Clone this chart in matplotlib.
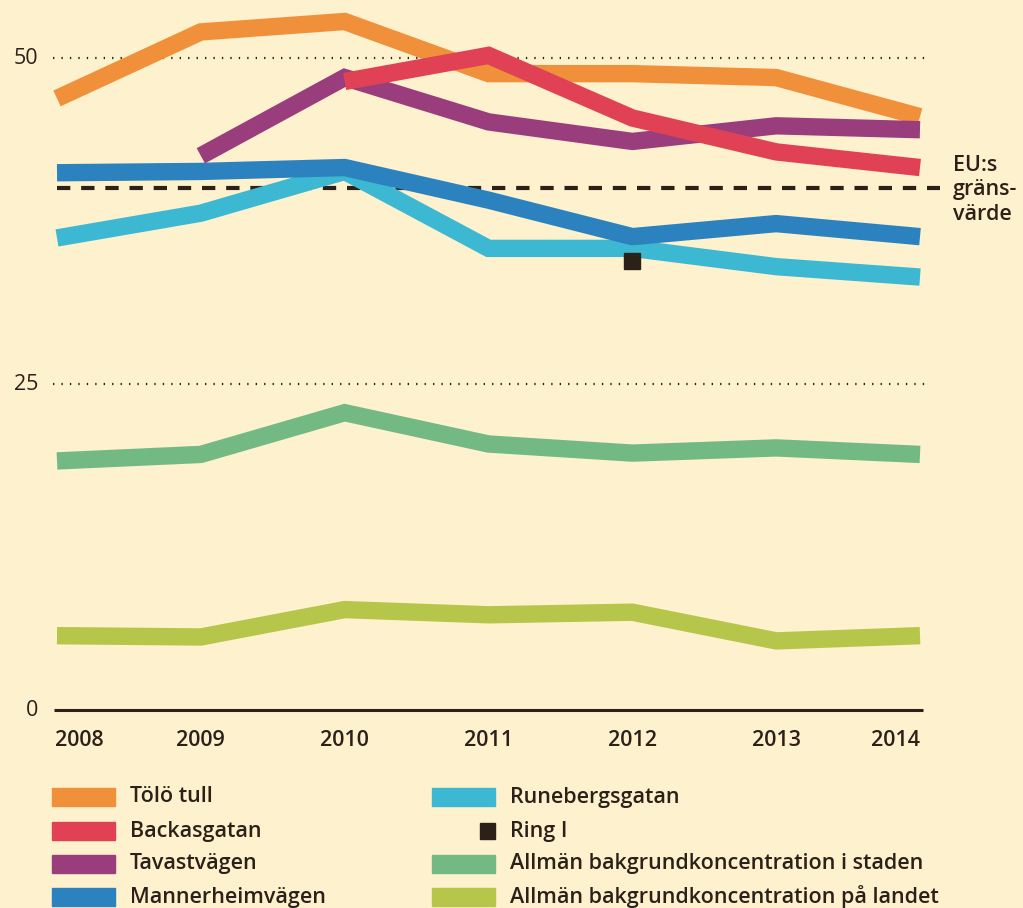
import matplotlib
matplotlib.use("Agg")
import matplotlib.pyplot as plt
import matplotlib.transforms as mtransforms
from matplotlib.patches import Rectangle

# data (NO2, µg/m3)
years = [2008, 2009, 2010, 2011, 2012, 2013, 2014]
tolo_tull = [46.9, 52.0, 52.8, 48.8, 48.8, 48.5, 45.5]
backasgatan = [None, None, 48.2, 50.2, 45.4, 42.8, 41.6]
tavastvagen = [None, 42.5, 48.5, 45.1, 43.6, 44.8, 44.5]
mannerheimvagen = [41.2, 41.3, 41.6, 39.1, 36.3, 37.3, 36.3]
runebergsgatan = [36.2, 38.1, 41.3, 35.4, 35.4, 34.0, 33.2]
ring1_year = 2012
ring1_value = 34.4
staden = [19.1, 19.6, 22.8, 20.4, 19.7, 20.1, 19.6]
landet = [5.7, 5.6, 7.7, 7.3, 7.5, 5.3, 5.7]
eu_limit = 40
yticks = [0, 25, 50]

series_names = ["Tölö tull", "Backasgatan", "Tavastvägen", "Mannerheimvägen",
                "Runebergsgatan", "Allmän bakgrundkoncentration i staden",
                "Allmän bakgrundkoncentration på landet"]
series_values = [tolo_tull, backasgatan, tavastvagen, mannerheimvagen,
                 runebergsgatan, staden, landet]
colors = ["#F0903A", "#E04154", "#9A3D7D", "#2B82BE", "#3DB8D2", "#72B983", "#B5C64A"]
dark = "#2B2119"
bg = "#FEF1CD"

plt.rcParams['font.family'] = ['Open Sans', 'DejaVu Sans']
fs = 15.5
fw = 'semibold'

W, H = 1023, 908
fig = plt.figure(figsize=(W / 100, H / 100), dpi=100, facecolor=bg)
x0, x1, y0, y1 = 57, 920, 710, 58
ax = fig.add_axes([x0 / W, 1 - y0 / H, (x1 - x0) / W, (y0 - y1) / H])
ax.set_facecolor(bg)
ax.set_xlim(2008, 2014)
ax.set_ylim(0, 50)
ax.axis('off')

# grid lines
for v in yticks[1:]:
    ax.axhline(v, xmin=-0.005, xmax=1.006, color=dark, lw=1.6,
               linestyle=(0, (0.6, 3.2)), clip_on=False)
ax.axhline(0, xmin=-0.003, xmax=1.003, color=dark, lw=2.2, clip_on=False, solid_capstyle='butt')
ylab_tr = mtransforms.blended_transform_factory(fig.transFigure, ax.transData)
for v in yticks:
    ax.text(38 / W, v, str(v), transform=ylab_tr, ha='right', va='center',
            fontsize=fs, fontweight='medium', color=dark)

# EU limit
ax.axhline(eu_limit, xmin=0, xmax=1.023, color=dark, lw=3, linestyle=(0, (3.2, 2.6)),
           clip_on=False, zorder=1)
ax.text(953 / W, 1 - 190 / H, "EU:s\ngräns-\nvärde", transform=fig.transFigure,
        ha='left', va='center', fontsize=fs, fontweight=fw, color=dark, linespacing=1.2)

# series (draw order follows the picture)
order = [5, 6, 4, 3, 0, 2, 1]
for i in order:
    xs = [y for y, v in zip(years, series_values[i]) if v is not None]
    ys = [v for v in series_values[i] if v is not None]
    ax.plot(xs, ys, color=colors[i], lw=12.5, solid_capstyle='butt',
            solid_joinstyle='miter', clip_on=False, zorder=2)
ax.plot([ring1_year], [ring1_value], 's', color=dark, ms=11, zorder=3, clip_on=False)

# x tick labels
xlab_tr = mtransforms.blended_transform_factory(ax.transData, fig.transFigure)
for yr in years:
    ha = 'left' if yr == years[0] else ('right' if yr == years[-1] else 'center')
    xx = yr - 0.015 if yr == years[0] else yr
    ax.text(xx, 1 - 740 / H, str(yr), transform=xlab_tr, ha=ha, va='center',
            fontsize=fs, fontweight=fw, color=dark)

# legend
rows = [797, 831, 864, 897]
col1 = [(0, rows[0]), (1, rows[1]), (2, rows[2]), (3, rows[3])]
col2 = [(4, rows[0]), ("ring", rows[1]), (5, rows[2]), (6, rows[3])]
for col, px, tx in [(col1, 52, 130), (col2, 432, 510)]:
    for idx, ry in col:
        if idx == "ring":
            fig.add_artist(Rectangle((480 / W, 1 - (ry + 8) / H), 15 / W, 16 / H,
                                     transform=fig.transFigure, color=dark))
            label = "Ring I"
        else:
            fig.add_artist(Rectangle((px / W, 1 - (ry + 9) / H), 63 / W, 18 / H,
                                     transform=fig.transFigure, color=colors[idx]))
            label = series_names[idx]
        fig.text(tx / W, 1 - ry / H, label, ha='left', va='center', fontsize=fs,
                 fontweight=fw, color=dark)

fig.savefig("out.png", dpi=100, facecolor=bg)
